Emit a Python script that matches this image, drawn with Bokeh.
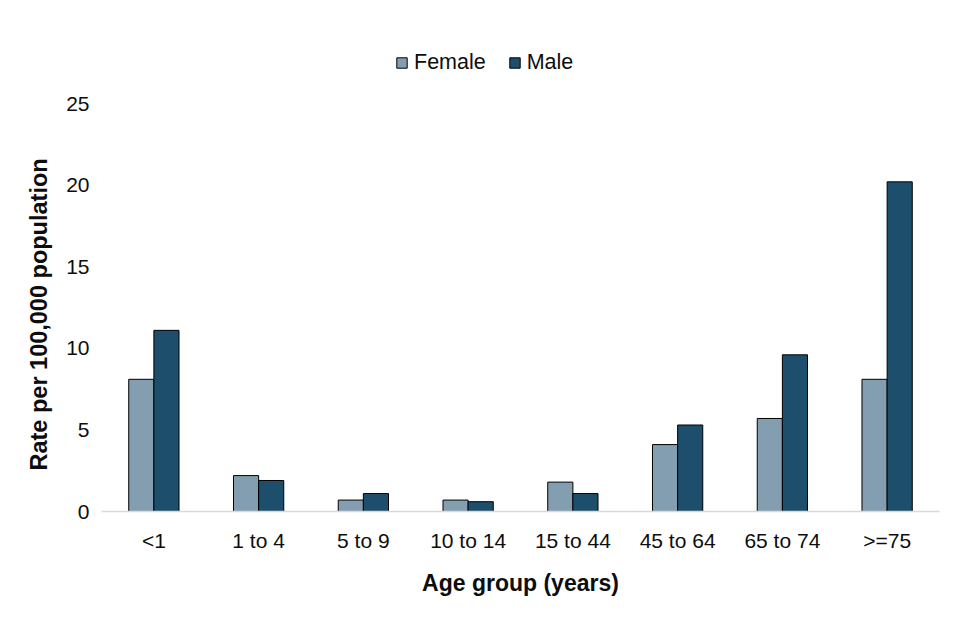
from bokeh.plotting import figure
from bokeh.models import ColumnDataSource, FactorRange, FixedTicker, Legend, LegendItem, Range1d, Title
from bokeh.transform import dodge
from bokeh.embed import file_html
from bokeh.resources import INLINE

age_groups = ["<1", "1 to 4", "5 to 9", "10 to 14", "15 to 44", "45 to 64", "65 to 74", ">=75"]
female = [8.1, 2.2, 0.7, 0.7, 1.8, 4.1, 5.7, 8.1]
male = [11.1, 1.9, 1.1, 0.6, 1.1, 5.3, 9.6, 20.2]
y_ticks = [0, 5, 10, 15, 20, 25]

FEMALE_COLOR = "#839eb0"
MALE_COLOR = "#1d4f6c"
FONT = "Liberation Sans"
TEXT_COLOR = "#0d0d0d"

# frame extends above the 25 tick so the legend can sit inside it
FRAME_TOP = 30
AXIS_TOP = 103
AXIS_BOTTOM = 511
y_end = 25 * (AXIS_BOTTOM - FRAME_TOP) / (AXIS_BOTTOM - AXIS_TOP)

source = ColumnDataSource(data=dict(age=age_groups, female=female, male=male))

p = figure(
    x_range=FactorRange(*age_groups),
    y_range=Range1d(0, y_end),
    width=944,
    height=624,
    output_backend="svg",
    toolbar_location=None,
    min_border_left=101,
    min_border_right=5,
    min_border_top=FRAME_TOP,
    min_border_bottom=624 - AXIS_BOTTOM,
)
p.outline_line_color = None
p.background_fill_color = "white"
p.border_fill_color = "white"

rf = p.vbar(x=dodge("age", -0.12, range=p.x_range), top="female", width=0.24, source=source,
            fill_color=FEMALE_COLOR, line_color="black", line_width=1)
rm = p.vbar(x=dodge("age", 0.12, range=p.x_range), top="male", width=0.24, source=source,
            fill_color=MALE_COLOR, line_color="black", line_width=1)

p.xgrid.grid_line_color = None
p.ygrid.grid_line_color = None

p.yaxis.ticker = FixedTicker(ticks=y_ticks)
p.yaxis.axis_line_color = None
p.yaxis.major_tick_line_color = None
p.yaxis.minor_tick_line_color = None
p.yaxis.major_label_standoff = 6
p.yaxis.major_label_text_font = FONT
p.yaxis.major_label_text_font_size = "21px"
p.yaxis.major_label_text_color = TEXT_COLOR

ytitle = Title(
    text="Rate per 100,000 population",
    align="left",
    vertical_align="top",
    offset=41,
    standoff=20,
    text_font=FONT,
    text_font_size="23.5px",
    text_font_style="bold",
    text_color=TEXT_COLOR,
)
p.add_layout(ytitle, "left")

p.xaxis.axis_line_color = "#d9d9d9"
p.xaxis.axis_line_width = 1.5
p.xaxis.major_tick_line_color = None
p.xaxis.minor_tick_line_color = None
p.xaxis.major_label_standoff = 11
p.xaxis.major_label_text_font = FONT
p.xaxis.major_label_text_font_size = "21px"
p.xaxis.major_label_text_color = TEXT_COLOR
p.xaxis.axis_label = "Age group (years)"
p.xaxis.axis_label_text_font = FONT
p.xaxis.axis_label_text_font_size = "23px"
p.xaxis.axis_label_text_font_style = "bold"
p.xaxis.axis_label_text_color = TEXT_COLOR
p.xaxis.axis_label_standoff = 15

legend = Legend(
    items=[LegendItem(label="Female", renderers=[rf]), LegendItem(label="Male", renderers=[rm])],
    orientation="horizontal",
    location=(294, 436),
    glyph_width=13,
    glyph_height=13,
    label_standoff=6,
    spacing=22,
    padding=0,
    margin=0,
    border_line_color=None,
    background_fill_alpha=0,
    label_text_font=FONT,
    label_text_font_size="21.5px",
    label_text_color=TEXT_COLOR,
)
p.add_layout(legend, "center")

open("out.html", "w").write(file_html(p, INLINE))
